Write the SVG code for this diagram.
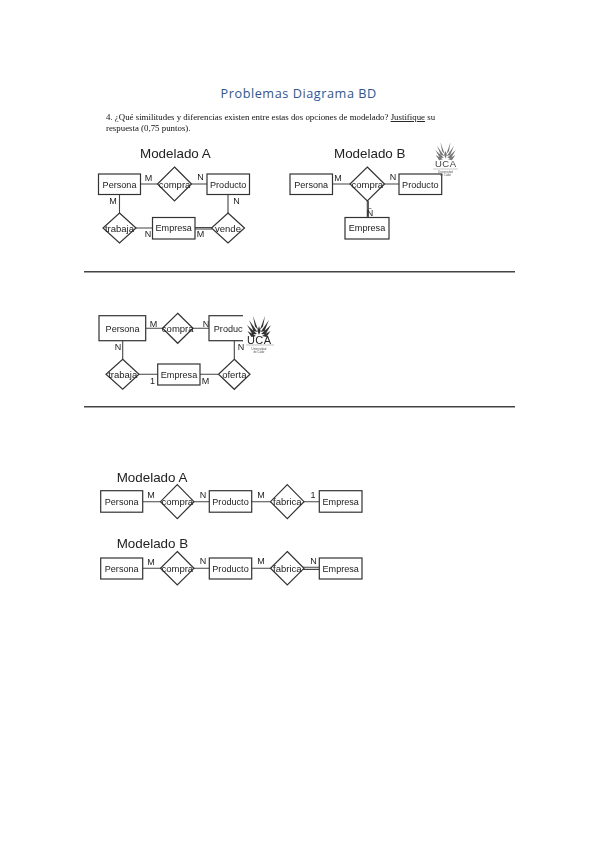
<svg xmlns="http://www.w3.org/2000/svg" width="599" height="848" viewBox="0 0 599 848">
<defs>
<filter id="soft" x="-5%" y="-5%" width="110%" height="110%"><feGaussianBlur stdDeviation="0.3"/></filter>
<g id="wing"><path d="M-12 -10L-2 -1L-6.5 -.5ZM-10 -15L-1.5 -3L-5.5 -4ZM-6 -19L-.8 -5L-4 -8.5ZM-11.5 -4L-3 1L-7.5 2Z"/></g>
<g id="wings"><use href="#wing"/><use href="#wing" transform="scale(-1,1)"/><path d="M0 -9L-1.6 -4L0 0L1.6 -4Z"/></g>
</defs>
<style>
text{font-family:"Liberation Sans",Arial,sans-serif;fill:#222}
.box{fill:#fff;stroke:#333;stroke-width:1.2}
.dia{fill:#fff;stroke:#333;stroke-width:1.2}
.con{fill:none;stroke:#444;stroke-width:1.1}
.lbl{font-size:9px;text-anchor:middle}
.ent{font-size:9.1px;text-anchor:middle}
.rel{font-size:9.5px;text-anchor:middle}
.head{font-size:13.4px;fill:#222}
.q{font-family:"Liberation Serif",serif;font-size:8.85px;fill:#111}
.rule{stroke:#444;stroke-width:1.4}
.tiny{font-size:2.8px;fill:#555;text-anchor:middle}
</style>
<rect width="599" height="848" fill="#fff"/>
<text x="298.7" y="98" text-anchor="middle" style="font-family:'Open Sans',sans-serif;font-size:12.7px;fill:#2f5496;letter-spacing:.55px">Problemas Diagrama BD</text>
<line class="rule" x1="84" y1="271.7" x2="515" y2="271.7"/>
<line class="rule" x1="84" y1="406.7" x2="515" y2="406.7"/>
<g filter="url(#soft)">
<text class="q" x="106" y="120">4. ¿Qué similitudes y diferencias existen entre estas dos opciones de modelado? <tspan text-decoration="underline">Justifique</tspan> su</text>
<text class="q" x="106" y="130.5">respuesta (0,75 puntos).</text>
<text class="head" x="140" y="158">Modelado A</text>
<text class="head" x="334" y="158">Modelado B</text>
<text class="head" x="116.7" y="481.7">Modelado A</text>
<text class="head" x="116.7" y="548.3">Modelado B</text>

<g id="connectors">
<path class="con" d="M140.5 184H207M228 194.5V213M119.5 194.5V213M135 228H152.5M195 227.5H212"/>
<path class="con" d="M195 229H212"/>
<path class="con" d="M332.5 184H399M367.3 201V217.5"/>
<path class="con" d="M368.3 201V217.5"/>
<path class="con" d="M145.7 328.3H209M122.7 340.7V359M234.3 340.7V359M139 374.3H157.7M200 374.3H218"/>
<path class="con" d="M142.7 501.7H209.3M251.7 501.7H319.3"/>
<path class="con" d="M142.7 568.3H209.3M251.7 568.3H304"/>
<path class="con" d="M303 567.2H319.3M303 569.4H319.3"/>
</g>

<g id="a-persona"><rect class="box" x="98.5" y="174" width="42" height="20.5"/><text class="ent" x="119.5" y="187.5">Persona</text></g>
<g id="a-compra"><path class="dia" d="M174.5 167L191.5 184L174.5 201L157.5 184Z"/><text class="rel" x="174.5" y="187.5">compra</text></g>
<g id="a-producto"><rect class="box" x="207" y="174" width="42.5" height="20.5"/><text class="ent" x="228.2" y="187.5">Producto</text></g>
<g id="a-trabaja"><path class="dia" d="M119.5 213L136 228L119.5 243L103 228Z"/><text class="rel" x="119.5" y="231.5">trabaja</text></g>
<g id="a-empresa"><rect class="box" x="152.5" y="217.5" width="42.5" height="21.5"/><text class="ent" x="173.7" y="231">Empresa</text></g>
<g id="a-vende"><path class="dia" d="M228 213L244.5 228L228 243L211.5 228Z"/><text class="rel" x="228" y="231.5">vende</text></g>
<g id="a-labels">
<text class="lbl" x="148.5" y="181">M</text><text class="lbl" x="200.5" y="180">N</text><text class="lbl" x="113" y="204">M</text><text class="lbl" x="236.5" y="204">N</text><text class="lbl" x="148" y="237">N</text><text class="lbl" x="200.5" y="237">M</text>
</g>

<g id="b-persona"><rect class="box" x="290" y="174" width="42.5" height="20.5"/><text class="ent" x="311.2" y="187.5">Persona</text></g>
<g id="b-compra"><path class="dia" d="M367.3 167L384.5 184L367.3 201L350 184Z"/><text class="rel" x="367.3" y="187.5">compra</text></g>
<g id="b-producto"><rect class="box" x="399" y="174" width="42.7" height="20.5"/><text class="ent" x="420.3" y="187.5">Producto</text></g>
<g id="b-empresa"><rect class="box" x="345" y="217.5" width="44" height="21.5"/><text class="ent" x="367" y="231">Empresa</text></g>
<g id="b-labels"><text class="lbl" x="338" y="181">M</text><text class="lbl" x="393" y="180">N</text><text class="lbl" x="370" y="216">Ñ</text></g>

<g id="c-persona"><rect class="box" x="99" y="315.7" width="46.7" height="25"/><text class="ent" x="122.5" y="331.5">Persona</text></g>
<g id="c-compra"><path class="dia" d="M177.7 313.3L193 328.3L177.7 343.3L162.5 328.3Z"/><text class="rel" x="177.7" y="331.8">compra</text></g>
<g id="c-producto"><rect class="box" x="209" y="315.7" width="50" height="25"/><text class="ent" x="232" y="331.5">Producto</text></g>
<g id="c-trabaja"><path class="dia" d="M122.7 359.3L139 374.3L122.7 389.3L106 374.3Z"/><text class="rel" x="122.7" y="377.8">trabaja</text></g>
<g id="c-empresa"><rect class="box" x="157.7" y="364" width="42.3" height="21"/><text class="ent" x="179" y="377.5">Empresa</text></g>
<g id="c-oferta"><path class="dia" d="M234.3 359.3L250 374.3L234.3 389.3L218.5 374.3Z"/><text class="rel" x="234.3" y="377.8">oferta</text></g>
<g id="c-labels"><text class="lbl" x="153.5" y="327">M</text><text class="lbl" x="206" y="326.5">N</text><text class="lbl" x="118" y="350">N</text><text class="lbl" x="241" y="350">N</text><text class="lbl" x="152.5" y="384">1</text><text class="lbl" x="205.5" y="383.5">M</text></g>

<g id="d-persona"><rect class="box" x="100.7" y="490.7" width="42" height="21.5"/><text class="ent" x="121.7" y="504.5">Persona</text></g>
<g id="d-compra"><path class="dia" d="M177.3 484.7L194 501.7L177.3 518.7L160.5 501.7Z"/><text class="rel" x="177.3" y="505">compra</text></g>
<g id="d-producto"><rect class="box" x="209.3" y="490.7" width="42.4" height="21.5"/><text class="ent" x="230.5" y="504.5">Producto</text></g>
<g id="d-fabrica"><path class="dia" d="M287.3 484.7L304 501.7L287.3 518.7L270.5 501.7Z"/><text class="rel" x="287.3" y="505">fabrica</text></g>
<g id="d-empresa"><rect class="box" x="319.3" y="490.7" width="42.7" height="21.5"/><text class="ent" x="340.7" y="504.5">Empresa</text></g>
<g id="d-labels"><text class="lbl" x="151" y="498">M</text><text class="lbl" x="203" y="497.5">N</text><text class="lbl" x="261" y="497.5">M</text><text class="lbl" x="313" y="497.5">1</text></g>

<g id="e-persona"><rect class="box" x="100.7" y="558" width="42" height="21"/><text class="ent" x="121.7" y="571.5">Persona</text></g>
<g id="e-compra"><path class="dia" d="M177.3 551.5L194 568.3L177.3 585L160.5 568.3Z"/><text class="rel" x="177.3" y="571.7">compra</text></g>
<g id="e-producto"><rect class="box" x="209.3" y="558" width="42.4" height="21"/><text class="ent" x="230.5" y="571.5">Producto</text></g>
<g id="e-fabrica"><path class="dia" d="M287.3 551.5L304 568.3L287.3 585L270.5 568.3Z"/><text class="rel" x="287.3" y="571.7">fabrica</text></g>
<g id="e-empresa"><rect class="box" x="319.3" y="558" width="42.7" height="21"/><text class="ent" x="340.7" y="571.5">Empresa</text></g>
<g id="e-labels"><text class="lbl" x="151" y="564.5">M</text><text class="lbl" x="203" y="564">N</text><text class="lbl" x="261" y="564">M</text><text class="lbl" x="313.5" y="564">N</text></g>

<g id="logo-top">
<use href="#wings" fill="#777" transform="translate(445.5,158.5) scale(.85)"/>
<text x="445.5" y="167.3" text-anchor="middle" textLength="21" style="font-size:9.5px;fill:#444">UCA</text>
<line x1="433" y1="169" x2="458" y2="169" stroke="#aaa" stroke-width=".6"/>
<text class="tiny" x="445.5" y="172.5">Universidad</text><text class="tiny" x="445.5" y="175.5">de Cádiz</text>
</g>
<g id="logo-mid">
<rect x="243" y="312" width="32" height="30" fill="#fff"/>
<use href="#wings" fill="#333" transform="translate(259,335)"/>
<text x="259" y="343.5" text-anchor="middle" textLength="24" style="font-size:11px;fill:#222">UCA</text>
<line x1="246" y1="345" x2="274" y2="345" stroke="#999" stroke-width=".6"/>
<text class="tiny" x="259" y="349.5">Universidad</text><text class="tiny" x="259" y="353">de Cádiz</text>
</g>
</g>
</svg>
